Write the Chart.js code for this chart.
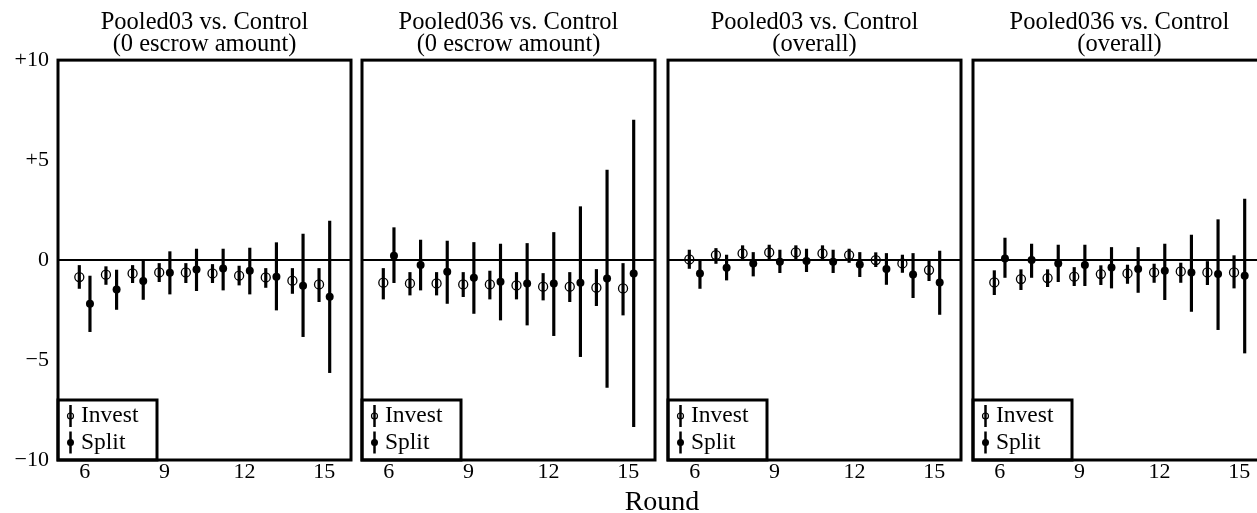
<!DOCTYPE html>
<html>
<head>
<meta charset="utf-8">
<script src="https://cdn.jsdelivr.net/npm/chart.js@4.4.1/dist/chart.umd.min.js"></script>
<style>
  html, body { margin: 0; padding: 0; background: #fff; overflow: hidden; }
  #wrap { position: relative; width: 1257px; height: 513px; overflow: hidden; }
  #wrap canvas { position: absolute; top: 0; }
  #xlabel { position: absolute; left: 562px; width: 200px; top: 485px; line-height: 30px;
            text-align: center; font: 28px 'Liberation Serif', serif; color: #000; }
</style>
</head>
<body>
<div id="wrap">
  <canvas id="c0" width="349" height="513" style="left:8px"></canvas>
  <canvas id="c1" width="349" height="513" style="left:312px"></canvas>
  <canvas id="c2" width="349" height="513" style="left:618px"></canvas>
  <canvas id="c3" width="349" height="513" style="left:923px"></canvas>
  <div id="xlabel">Round</div>
</div>
<script>
const rounds = [6, 7, 8, 9, 10, 11, 12, 13, 14, 15];
const xTicks = [6, 9, 12, 15];
const yTicks = [-10, -5, 0, 5, 10];
const yTickLabels = ['\u221210', '\u22125', '0', '+5', '+10'];
const seriesNames = ['Invest', 'Split'];

const panelTitles = [
  ['Pooled03 vs. Control', '(0 escrow amount)'],
  ['Pooled036 vs. Control', '(0 escrow amount)'],
  ['Pooled03 vs. Control', '(overall)'],
  ['Pooled036 vs. Control', '(overall)']
];

// Pooled03 vs. Control, 0 escrow amount
const p03zeroInvest   = [-0.85, -0.73, -0.67, -0.62, -0.62, -0.67, -0.78, -0.87, -1.03, -1.22];
const p03zeroInvestLo = [-1.42, -1.22, -1.13, -1.08, -1.13, -1.13, -1.25, -1.37, -1.67, -2.08];
const p03zeroInvestHi = [-0.27, -0.33, -0.27, -0.17, -0.17, -0.22, -0.30, -0.42, -0.42, -0.42];
const p03zeroSplit    = [-2.18, -1.47, -1.05, -0.63, -0.47, -0.42, -0.53, -0.83, -1.28, -1.83];
const p03zeroSplitLo  = [-3.58, -2.47, -1.97, -1.70, -1.53, -1.50, -1.70, -2.50, -3.83, -5.63];
const p03zeroSplitHi  = [-0.80, -0.50, 0.00, 0.42, 0.55, 0.55, 0.60, 0.87, 1.30, 1.95];

// Pooled036 vs. Control, 0 escrow amount
const p036zeroInvest   = [-1.13, -1.17, -1.17, -1.22, -1.22, -1.27, -1.33, -1.33, -1.38, -1.42];
const p036zeroInvestLo = [-1.95, -1.75, -1.75, -1.83, -1.95, -1.95, -2.00, -2.08, -2.28, -2.75];
const p036zeroInvestHi = [-0.42, -0.62, -0.62, -0.62, -0.55, -0.62, -0.67, -0.62, -0.47, -0.17];
const p036zeroSplit    = [0.22, -0.25, -0.58, -0.88, -1.08, -1.17, -1.17, -1.13, -0.92, -0.67];
const p036zeroSplitLo  = [-1.13, -1.50, -2.17, -2.67, -3.00, -3.25, -3.78, -4.83, -6.37, -8.33];
const p036zeroSplitHi  = [1.62, 1.00, 0.95, 0.88, 0.80, 0.83, 1.38, 2.67, 4.50, 7.00];

// Pooled03 vs. Control, overall
const p03allInvest   = [0.03, 0.25, 0.33, 0.38, 0.38, 0.33, 0.25, 0.00, -0.17, -0.50];
const p03allInvestLo = [-0.42, -0.17, 0.00, 0.03, 0.03, 0.00, -0.12, -0.33, -0.62, -1.03];
const p03allInvestHi = [0.50, 0.58, 0.72, 0.75, 0.72, 0.72, 0.55, 0.37, 0.25, 0.00];
const p03allSplit    = [-0.67, -0.38, -0.17, -0.08, -0.05, -0.08, -0.22, -0.45, -0.72, -1.12];
const p03allSplitLo  = [-1.42, -1.00, -0.80, -0.63, -0.58, -0.63, -0.83, -1.22, -1.88, -2.72];
const p03allSplitHi  = [0.00, 0.25, 0.38, 0.50, 0.55, 0.50, 0.38, 0.33, 0.33, 0.45];

// Pooled036 vs. Control, overall
const p036allInvest   = [-1.12, -0.95, -0.90, -0.83, -0.70, -0.67, -0.62, -0.57, -0.62, -0.62];
const p036allInvestLo = [-1.73, -1.48, -1.33, -1.28, -1.23, -1.17, -1.12, -1.12, -1.23, -1.40];
const p036allInvestHi = [-0.53, -0.48, -0.48, -0.37, -0.28, -0.25, -0.20, -0.15, -0.07, 0.22];
const p036allSplit    = [0.08, 0.00, -0.17, -0.25, -0.37, -0.45, -0.53, -0.62, -0.70, -0.78];
const p036allSplitLo  = [-0.87, -0.87, -1.08, -1.28, -1.40, -1.62, -1.98, -2.57, -3.48, -4.65];
const p036allSplitHi  = [1.10, 0.80, 0.75, 0.75, 0.63, 0.63, 0.80, 1.25, 2.02, 3.05];

const panels = [
  [p03zeroInvest, p03zeroInvestLo, p03zeroInvestHi, p03zeroSplit, p03zeroSplitLo, p03zeroSplitHi],
  [p036zeroInvest, p036zeroInvestLo, p036zeroInvestHi, p036zeroSplit, p036zeroSplitLo, p036zeroSplitHi],
  [p03allInvest, p03allInvestLo, p03allInvestHi, p03allSplit, p03allSplitLo, p03allSplitHi],
  [p036allInvest, p036allInvestLo, p036allInvestHi, p036allSplit, p036allSplitLo, p036allSplitHi]
];

Chart.defaults.font.family = "'Liberation Serif', serif";
Chart.defaults.color = '#000';

const shift = 0.2; // invest drawn left of the round, split right

// legend box in the bottom left corner + thick frame round the plot
const framePlugin = {
  id: 'frame',
  afterDraw(chart) {
    const ctx = chart.ctx, a = chart.chartArea;
    const bx = a.left, by = a.bottom - 60;
    ctx.save();
    ctx.fillStyle = '#fff';
    ctx.fillRect(bx, by, 99, 60);
    ctx.strokeStyle = '#000';
    ctx.lineWidth = 3;
    ctx.strokeRect(bx, by, 99, 60);
    seriesNames.forEach((name, i) => {
      const cy = a.bottom - 44 + i * 26.5;
      const mx = bx + 12.5;
      ctx.lineWidth = 2.5;
      ctx.beginPath();
      ctx.moveTo(mx, cy - 11);
      ctx.lineTo(mx, cy + 11);
      ctx.stroke();
      ctx.beginPath();
      if (i === 0) {
        ctx.lineWidth = 1.2;
        ctx.arc(mx, cy, 3, 0, Math.PI * 2);
        ctx.stroke();
      } else {
        ctx.fillStyle = '#000';
        ctx.arc(mx, cy, 3.5, 0, Math.PI * 2);
        ctx.fill();
      }
      ctx.fillStyle = '#000';
      ctx.font = "23.5px 'Liberation Serif', serif";
      ctx.textBaseline = 'middle';
      ctx.textAlign = 'left';
      ctx.fillText(name, bx + 23, cy);
    });
    ctx.lineWidth = 3;
    ctx.strokeRect(a.left, a.top, a.right - a.left, a.bottom - a.top);
    ctx.restore();
  }
};

panels.forEach((d, p) => {
  const [inv, invLo, invHi, spl, splLo, splHi] = d;
  new Chart(document.getElementById('c' + p), {
    type: 'scatter',
    data: {
      datasets: [
        {
          label: seriesNames[0],
          data: rounds.map((r, i) => ({ x: r - shift, y: inv[i] })),
          pointRadius: 4.5,
          pointBorderWidth: 1.3,
          pointBorderColor: '#000',
          pointBackgroundColor: 'rgba(0,0,0,0)',
          order: 0
        },
        {
          label: seriesNames[1],
          data: rounds.map((r, i) => ({ x: r + shift, y: spl[i] })),
          pointRadius: 4,
          pointBorderWidth: 0,
          pointBorderColor: '#000',
          pointBackgroundColor: '#000',
          order: 0
        },
        {
          type: 'bar',
          label: seriesNames[0] + ' range',
          data: rounds.map((r, i) => ({ x: r - shift, y: [invLo[i], invHi[i]] })),
          backgroundColor: '#000',
          borderWidth: 0,
          barThickness: 2.5,
          grouped: false,
          order: 1
        },
        {
          type: 'bar',
          label: seriesNames[1] + ' range',
          data: rounds.map((r, i) => ({ x: r + shift, y: [splLo[i], splHi[i]] })),
          backgroundColor: '#000',
          borderWidth: 0,
          barThickness: 2.5,
          grouped: false,
          order: 1
        }
      ]
    },
    options: {
      responsive: false,
      animation: false,
      devicePixelRatio: 1,
      events: [],
      layout: { padding: { left: 0, right: 6, top: 0, bottom: 0 } },
      plugins: {
        legend: { display: false },
        tooltip: { enabled: false },
        title: {
          display: true,
          fullSize: false,
          text: panelTitles[p],
          color: '#000',
          font: { size: 24.5, weight: 'normal', lineHeight: 0.88 },
          padding: { top: 12, bottom: 5 }
        }
      },
      scales: {
        x: {
          type: 'linear',
          min: 5,
          max: 16,
          offset: false,
          grid: { display: false, drawTicks: false, offset: false },
          border: { display: false },
          afterBuildTicks: s => { s.ticks = xTicks.map(v => ({ value: v })); },
          afterFit: s => { s.height = 53; },
          ticks: { font: { size: 22, lineHeight: 1 }, padding: 1, maxRotation: 0, autoSkip: false }
        },
        y: {
          type: 'linear',
          min: -10,
          max: 10,
          grid: {
            drawTicks: false,
            lineWidth: 2,
            color: c => (c.tick && c.tick.value === 0) ? '#000' : 'rgba(0,0,0,0)'
          },
          border: { display: false },
          afterBuildTicks: s => { s.ticks = yTicks.map(v => ({ value: v })); },
          afterFit: s => { s.width = 50; },
          ticks: {
            display: p === 0,
            padding: 9,
            font: { size: 22 },
            callback: v => yTickLabels[yTicks.indexOf(v)]
          }
        }
      }
    },
    plugins: [framePlugin]
  });
});
</script>
</body>
</html>
